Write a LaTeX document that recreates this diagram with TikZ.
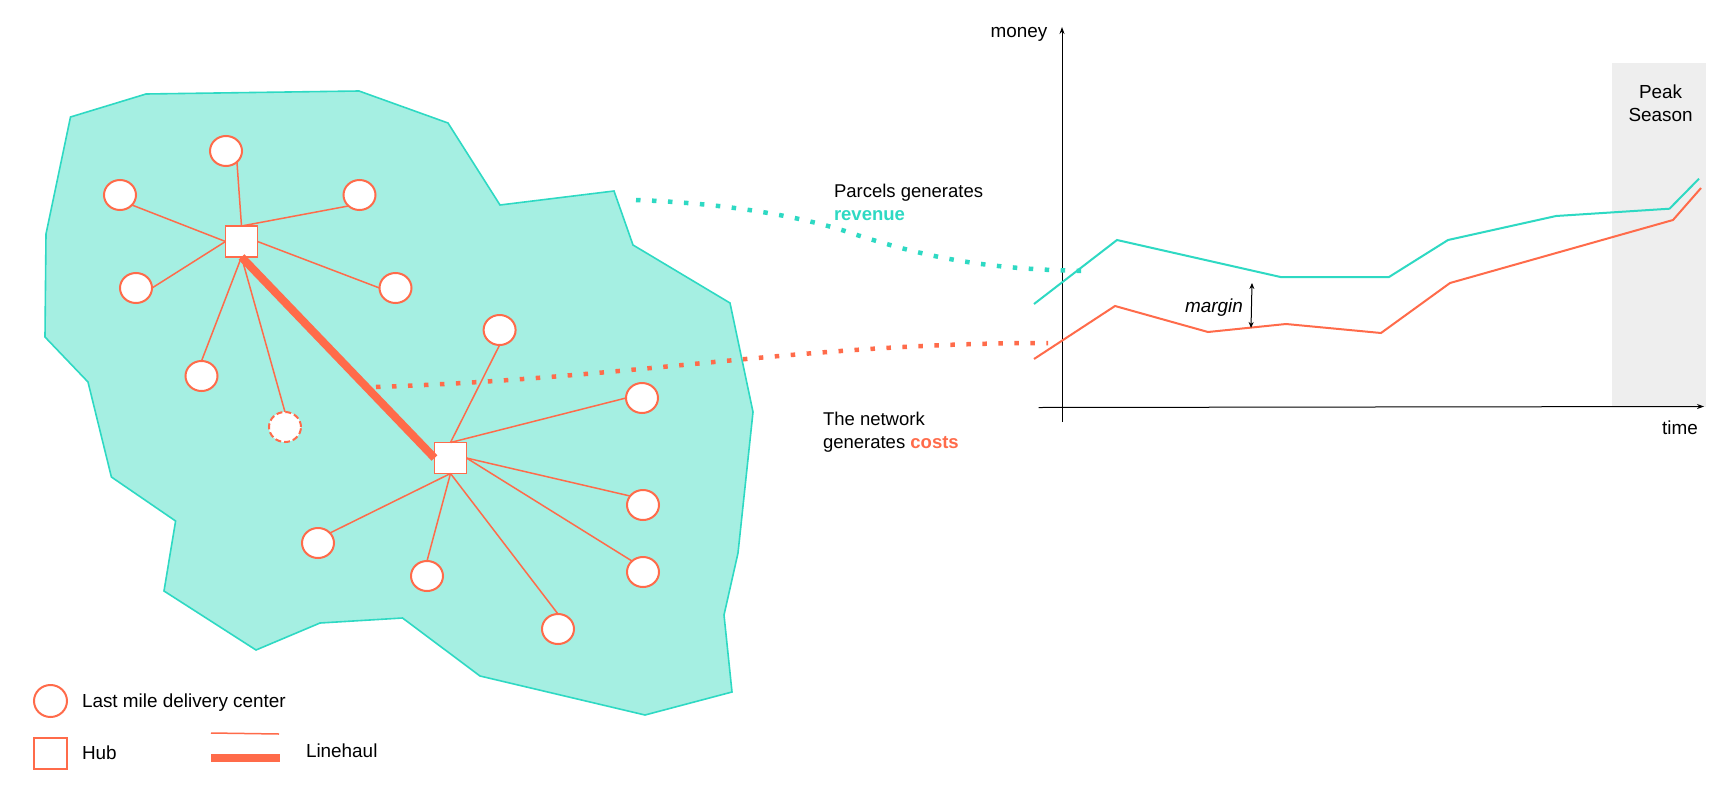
\documentclass[tikz,border=0pt]{standalone}
\usepackage{fontspec}
\setmainfont{Liberation Sans}
\usetikzlibrary{shapes.geometric,arrows.meta}
\definecolor{teal1}{HTML}{2ED9C3}
\definecolor{tealfill}{HTML}{A5EFE2}
\definecolor{coral}{HTML}{FF6B4A}
\definecolor{peak}{HTML}{EEEEEE}
\tikzset{
  center/.style={ellipse,draw=coral,fill=white,line width=2pt,minimum width=32pt,minimum height=30pt,inner sep=0pt,outer sep=0pt},
  hub/.style={rectangle,draw=coral,fill=white,line width=1.9pt,minimum width=32pt,minimum height=31pt,inner sep=0pt,outer sep=0pt},
  spoke/.style={draw=coral,line width=1.5pt},
  linehaul/.style={draw=coral,line width=8pt},
  label/.style={font=\fontsize{18.9pt}{22.5pt}\selectfont,text=black,inner sep=0pt,outer sep=0pt},
  leftlabel/.style={label,anchor=west},
  caption/.style={leftlabel,align=left,font=\fontsize{18.5pt}{23pt}\selectfont},
  dotline/.style={line width=4.5pt,dash pattern=on 4.5pt off 11.5pt},
  axis/.style={draw=black,line width=1pt,-{Stealth[length=7pt,width=5pt]}},
  curveline/.style={line width=2pt,line join=miter}
}
\begin{document}
\begin{tikzpicture}[x=1pt,y=-1pt]
\path[use as bounding box,fill=white] (0,0) rectangle (1731,803);

% territory
\draw[draw=teal1,fill=tealfill,line width=1.6pt,line join=miter]
 (70.5,117) -- (146,94) -- (359,91) -- (448,123) -- (500,205) -- (614,191) -- (633,245)
 -- (730,303) -- (753,412) -- (738,553) -- (724,615) -- (732,692) -- (645,715) -- (480,676)
 -- (402.5,618) -- (320,623) -- (256,650) -- (164,591) -- (175.6,521) -- (111.4,477)
 -- (88,382) -- (45,337) -- (46,234) -- cycle;

% hubs and centres
\node[hub] (h1) at (241.5,241.5) {};
\node[hub] (h2) at (450.5,458) {};
\node[center] (a1) at (226,151) {};
\node[center] (a2) at (120,195) {};
\node[center] (a3) at (359.5,195) {};
\node[center] (a4) at (136,288) {};
\node[center] (a5) at (395.5,288) {};
\node[center] (a6) at (201.5,376) {};
\node[center,dash pattern=on 6pt off 3pt] (a7) at (285,427) {};
\node[center] (b1) at (499.6,330) {};
\node[center] (b2) at (642,398) {};
\node[center] (b3) at (318,543) {};
\node[center] (b4) at (427,576) {};
\node[center] (b5) at (558,629) {};
\node[center] (b6) at (643,572) {};
\node[center] (b7) at (643,505) {};

\draw[spoke] (a1.-45) -- (h1.north);
\draw[spoke] (a2.-40) -- (h1.west);
\draw[spoke] (a3.-135) -- (h1.north);
\draw[spoke] (a4.east) -- (h1.west);
\draw[spoke] (a5.west) -- (h1.east);
\draw[spoke] (a6.north) -- (h1.south);
\draw[spoke] (a7.north) -- (h1.south);
\draw[spoke] (b1.south) -- (h2.north);
\draw[spoke] (b2.west) -- (h2.north);
\draw[spoke] (b3.40) -- (h2.south);
\draw[spoke] (b4.north) -- (h2.south);
\draw[spoke] (b5.north) -- (h2.south);
\draw[spoke] (b6.135) -- (h2.east);
\draw[spoke] (b7.145) -- (h2.east);
\draw[linehaul] (h1.south) -- (h2.west);

% chart
\fill[peak] (1612,63) rectangle (1706,407);
\coordinate (yb) at (1062,422);
\coordinate (yt) at (1062,27);
\coordinate (xl) at (1038.7,407.5);
\coordinate (xr) at (1704,406.5);
\draw[axis] (yb) -- (yt);
\draw[axis] (xl) -- (xr);
\draw[curveline,draw=teal1] (1034,304) -- (1117,240) -- (1280.5,277) -- (1389,277) -- (1448,240) -- (1556,216) -- (1669.5,208.7) -- (1699,178.7);
\draw[curveline,draw=coral] (1034,359) -- (1115,306) -- (1208,332) -- (1286,324) -- (1381,333) -- (1450,283) -- (1673,220) -- (1701,188);
\coordinate (mt) at (1252,283);
\coordinate (mb) at (1251,328);
\draw[draw=black,line width=1pt,{Stealth[length=6pt,width=5pt]}-{Stealth[length=6pt,width=5pt]}] (mb) -- (mt);
\node[label,font=\fontsize{18.9pt}{22.5pt}\selectfont\itshape] (tm) at (1214,308) {margin};
\node[label] (tmoney) at (1019,34) {money};
\node[label] (ttime) at (1680,428) {time};
\node[label,align=center] (tpeak) at (1660.6,103) {Peak\\Season};

% dotted links
\coordinate (d1) at (636,200);
\coordinate (d2) at (857,235);
\coordinate (d3) at (1091,271);
\draw[draw=teal1,dotline] (d1) .. controls (720,203) and (800,215) .. (d2) .. controls (920,255) and (980,270) .. (d3);
\coordinate (e1) at (376,387);
\coordinate (e2) at (1048,343);
\draw[draw=coral,dotline] (e1) .. controls (640,378) and (800,343) .. (e2);

% captions
\node[caption] (trev) at (834,202) {Parcels generates\\\textcolor{teal1}{\textbf{revenue}}};
\node[caption] (tcost) at (823,432.5) {The network\\generates \textcolor{coral}{\textbf{costs}}};

% legend
\node[center,minimum width=33pt,minimum height=32pt] (lc) at (50.5,701) {};
\node[hub,minimum width=33pt,minimum height=31pt] (lh) at (50.5,753.5) {};
\node[leftlabel] (tlc) at (82,703) {Last mile delivery center};
\node[leftlabel] (tlh) at (82,753) {Hub};
\coordinate (l1) at (211,733);
\coordinate (l2) at (279,734);
\coordinate (l3) at (211,758);
\coordinate (l4) at (279.5,758);
\draw[spoke] (l1) -- (l2);
\draw[draw=coral,line width=8pt] (l3) -- (l4);
\node[leftlabel] (tlh2) at (306,751) {Linehaul};
\end{tikzpicture}
\end{document}
